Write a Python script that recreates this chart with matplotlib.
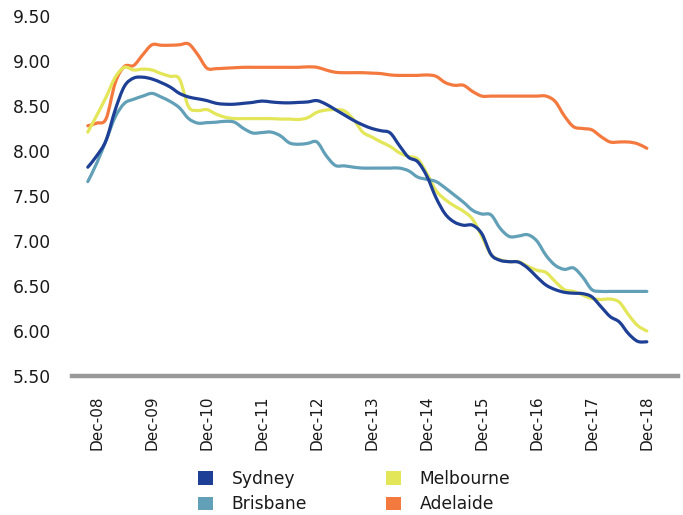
import numpy as np
import matplotlib
matplotlib.use("Agg")
import matplotlib.pyplot as plt
from matplotlib.path import Path
from matplotlib.patches import PathPatch, Patch

# Month offsets from Dec-08, sampled every two months (Oct-08 .. Dec-18)
months = list(range(-2, 121, 2))

tick_months = list(range(0, 121, 12))
tick_labels = ["Dec-08", "Dec-09", "Dec-10", "Dec-11", "Dec-12", "Dec-13",
               "Dec-14", "Dec-15", "Dec-16", "Dec-17", "Dec-18"]

y_ticks = [5.5, 6.0, 6.5, 7.0, 7.5, 8.0, 8.5, 9.0, 9.5]

sydney = [7.82, 7.95, 8.12, 8.46, 8.72, 8.81, 8.82, 8.80, 8.76, 8.71, 8.64, 8.60,
          8.58, 8.56, 8.53, 8.52, 8.52, 8.53, 8.54, 8.555, 8.545, 8.537, 8.535, 8.54,
          8.545, 8.56, 8.52, 8.46, 8.40, 8.34, 8.29, 8.25, 8.225, 8.20, 8.06, 7.93,
          7.88, 7.72, 7.48, 7.30, 7.21, 7.175, 7.175, 7.08, 6.85, 6.785, 6.77, 6.765,
          6.70, 6.60, 6.51, 6.46, 6.43, 6.42, 6.415, 6.38, 6.27, 6.16, 6.10, 5.97,
          5.885, 5.88]

melbourne = [8.21, 8.40, 8.60, 8.82, 8.93, 8.90, 8.91, 8.90, 8.86, 8.83, 8.80, 8.49,
             8.45, 8.46, 8.41, 8.375, 8.36, 8.36, 8.36, 8.36, 8.36, 8.355, 8.355, 8.35,
             8.37, 8.43, 8.455, 8.46, 8.445, 8.35, 8.21, 8.155, 8.10, 8.05, 7.98, 7.94,
             7.91, 7.75, 7.56, 7.46, 7.39, 7.33, 7.24, 7.05, 6.85, 6.79, 6.77, 6.77,
             6.72, 6.675, 6.65, 6.55, 6.46, 6.44, 6.40, 6.36, 6.35, 6.355, 6.32, 6.18,
             6.06, 6.00]

brisbane = [7.66, 7.87, 8.12, 8.38, 8.53, 8.575, 8.61, 8.64, 8.60, 8.55, 8.48, 8.36,
            8.31, 8.315, 8.32, 8.33, 8.32, 8.25, 8.20, 8.205, 8.21, 8.17, 8.09, 8.075,
            8.085, 8.10, 7.95, 7.84, 7.835, 7.82, 7.81, 7.81, 7.81, 7.81, 7.81, 7.78,
            7.71, 7.685, 7.66, 7.59, 7.51, 7.43, 7.34, 7.30, 7.29, 7.14, 7.05, 7.055,
            7.07, 7.00, 6.84, 6.73, 6.685, 6.70, 6.60, 6.46, 6.44, 6.44, 6.44, 6.44,
            6.44, 6.44]

adelaide = [8.28, 8.31, 8.36, 8.76, 8.94, 8.95, 9.07, 9.18, 9.175, 9.175, 9.18, 9.19,
            9.07, 8.92, 8.915, 8.92, 8.925, 8.93, 8.93, 8.93, 8.93, 8.93, 8.93, 8.93,
            8.935, 8.93, 8.90, 8.875, 8.87, 8.87, 8.87, 8.865, 8.86, 8.845, 8.84, 8.84,
            8.84, 8.845, 8.83, 8.76, 8.73, 8.73, 8.66, 8.61, 8.61, 8.61, 8.61, 8.61,
            8.61, 8.61, 8.61, 8.55, 8.39, 8.27, 8.25, 8.235, 8.16, 8.10, 8.10, 8.10,
            8.08, 8.03]

series = [
    ("Sydney", sydney, "#1d3f95"),
    ("Brisbane", brisbane, "#62a0b8"),
    ("Melbourne", melbourne, "#e4e65a"),
    ("Adelaide", adelaide, "#f4793f"),
]


def smooth_path(x, y):
    """Catmull-Rom curve through the points, as cubic Bezier segments."""
    pts = np.column_stack([x, y]).astype(float)
    verts = [pts[0]]
    codes = [Path.MOVETO]
    n = len(pts)
    for i in range(n - 1):
        p0 = pts[i - 1] if i > 0 else pts[i]
        p1 = pts[i]
        p2 = pts[i + 1]
        p3 = pts[i + 2] if i + 2 < n else pts[i + 1]
        verts += [p1 + (p2 - p0) / 6.0, p2 - (p3 - p1) / 6.0, p2]
        codes += [Path.CURVE4] * 3
    return Path(verts, codes)


plt.rcParams["font.family"] = ["DejaVu Sans"]
text_color = "#1a1a1a"

fig = plt.figure(figsize=(6.83, 5.15), dpi=100)
ax = fig.add_axes([72 / 683, 1 - 376 / 515, (678 - 72) / 683, 360 / 515])

# draw Adelaide first so Sydney ends on top
for name, vals, color in reversed(series):
    ax.add_patch(PathPatch(smooth_path(months, vals), fill=False, edgecolor=color,
                           linewidth=2.3, capstyle="round", joinstyle="round"))

ax.set_xlim(-5.45, 126.8)
ax.set_ylim(5.5, 9.5)

for side in ("top", "right", "left"):
    ax.spines[side].set_visible(False)
ax.spines["bottom"].set_color("#999999")
ax.spines["bottom"].set_linewidth(3.2)

ax.set_yticks(y_ticks)
ax.set_yticklabels([f"{v:.2f}" for v in y_ticks])
ax.set_xticks(tick_months)
ax.set_xticklabels(tick_labels, rotation=90, va="top", ha="center")
ax.tick_params(axis="y", length=0, pad=15, labelsize=12.3, labelcolor=text_color)
ax.tick_params(axis="x", length=0, pad=14, labelsize=11, labelcolor=text_color)

handles = [Patch(facecolor=c, edgecolor="none", label=n) for n, _, c in series]
fig.legend(handles, [s[0] for s in series],
           ncol=2, frameon=False, loc="upper left",
           bbox_to_anchor=(198 / 683, 1 - 470 / 515),
           fontsize=12.3, handlelength=0.88, handleheight=0.82,
           handletextpad=1.1, columnspacing=4.6, labelspacing=0.42,
           borderpad=0, borderaxespad=0, labelcolor=text_color)

fig.savefig("out.png", dpi=100)
